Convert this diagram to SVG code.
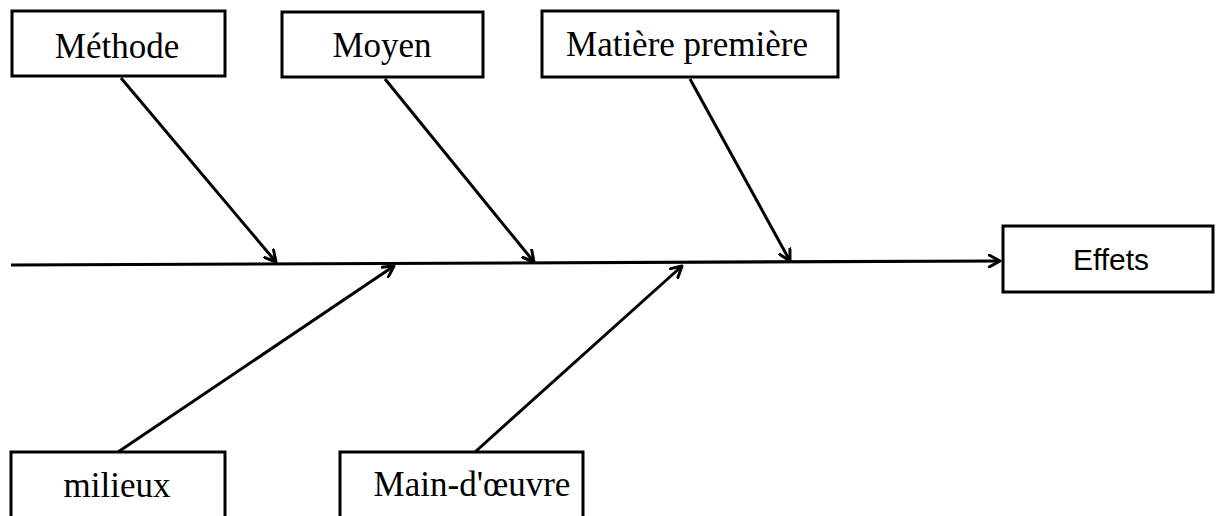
<svg xmlns="http://www.w3.org/2000/svg" width="1216" height="516" viewBox="0 0 1216 516">
  <defs>
    <style>
      .box { fill: #ffffff; stroke: #000000; stroke-width: 3; }
      .lbl { font-family: "Liberation Serif", "Times New Roman", serif; font-size: 35px; fill: #000000; text-anchor: middle; }
      .lbl-sans { font-family: "Liberation Sans", Arial, sans-serif; font-size: 30px; fill: #000000; text-anchor: middle; }
      .bone { fill: none; stroke: #000000; stroke-width: 3; marker-end: url(#arrow); }
      .spine { fill: none; stroke: #000000; stroke-width: 3.2; marker-end: url(#arrow); }
    </style>
    <marker id="arrow" viewBox="0 0 14 14" markerWidth="14" markerHeight="14" refX="12" refY="7" orient="auto" markerUnits="userSpaceOnUse">
      <path d="M1,1 L12,7 L1,13" fill="none" stroke="#000000" stroke-width="3" stroke-linecap="round" stroke-linejoin="round"/>
    </marker>
  </defs>

  <rect width="1216" height="516" fill="#ffffff"/>

  <!-- connectors: spine and cause branches -->
  <g id="connectors">
    <line class="spine" x1="11" y1="265" x2="1000" y2="261"/>
    <line class="bone" x1="121" y1="78" x2="276" y2="262"/>
    <line class="bone" x1="385" y1="79" x2="534" y2="262"/>
    <line class="bone" x1="690" y1="79" x2="790" y2="261"/>
    <line class="bone" x1="118" y1="452" x2="394" y2="266"/>
    <line class="bone" x1="475" y1="452" x2="682" y2="266"/>
  </g>

  <g id="methode">
    <rect class="box" x="12" y="11" width="213" height="65"/>
    <text class="lbl" x="117" y="58">Méthode</text>
  </g>

  <g id="moyen">
    <rect class="box" x="282" y="12" width="201" height="65"/>
    <text class="lbl" x="382" y="57">Moyen</text>
  </g>

  <g id="matiere">
    <rect class="box" x="542" y="11" width="296" height="66"/>
    <text class="lbl" x="687" y="56">Matière première</text>
  </g>

  <g id="effets">
    <rect class="box" x="1003" y="226" width="210" height="66"/>
    <text class="lbl-sans" x="1111" y="270">Effets</text>
  </g>

  <g id="milieux">
    <rect class="box" x="11" y="452" width="214" height="80"/>
    <text class="lbl" x="117" y="497">milieux</text>
  </g>

  <g id="main-oeuvre">
    <rect class="box" x="340" y="452" width="243" height="80"/>
    <text class="lbl" x="472" y="496">Main-d'œuvre</text>
  </g>
</svg>
